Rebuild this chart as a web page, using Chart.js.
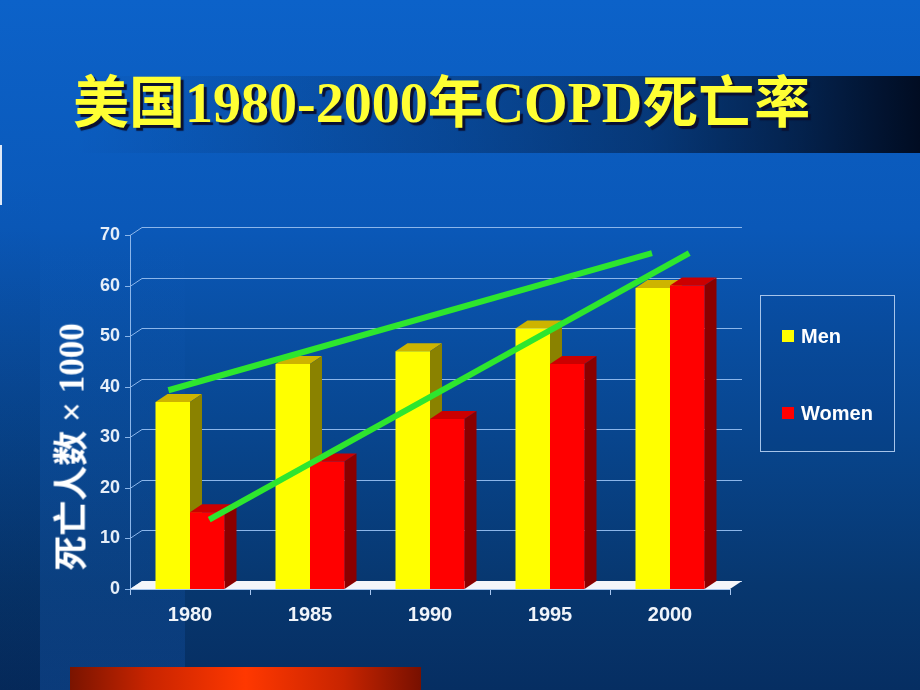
<!DOCTYPE html>
<html>
<head>
<meta charset="utf-8">
<script src="https://cdn.jsdelivr.net/npm/chart.js@4.4.1/dist/chart.umd.min.js"></script>
<style>
html, body { margin: 0; padding: 0; }
body {
    width: 920px; height: 690px; overflow: hidden; position: relative;
    background: linear-gradient(to bottom, #0c62c9 0%, #0a58b8 33%, #08468f 62%, #07376f 85%, #062e62 100%);
    font-family: "Liberation Sans", Arial, sans-serif;
}
#band { position: absolute; left: 40px; top: 0; width: 145px; height: 690px;
    background: linear-gradient(to bottom, rgba(40,120,230,0) 35%, rgba(30,110,220,0.2) 100%); }
#strip { position: absolute; left: 0; top: 0; width: 40px; height: 690px;
    background: linear-gradient(to bottom, rgba(0,10,40,0) 25%, rgba(0,10,40,0.15) 100%); }
#edge { position: absolute; left: 0; top: 145px; width: 2px; height: 60px; background: #dfe9f7; }
#titlebar { position: absolute; left: 75px; top: 76px; width: 845px; height: 77px;
    background: linear-gradient(to right, rgba(0,6,22,0) 0%, rgba(0,6,22,0.25) 45%, rgba(0,6,22,0.42) 68%, rgba(0,6,22,0.68) 86%, rgba(0,6,22,0.93) 100%); }
#title { position: absolute; left: 73px; top: 75px; margin: 0; white-space: nowrap;
    font: bold 56px/56px "Liberation Serif", "Noto Sans CJK SC", serif;
    color: #ffff33; text-shadow: 3px 3px 1px #0a1030; transform-origin: 0 0; }
#orange { position: absolute; left: 70px; top: 667px; width: 351px; height: 23px;
    background: linear-gradient(to right, #7a1400 0%, #c82400 22%, #ff3800 50%, #c82400 78%, #781000 100%); }
canvas { position: absolute; left: 0; top: 0; }
#ytitle { position: absolute; left: 68px; top: 447px; transform: translate(-50%, -50%) rotate(-90deg);
    white-space: nowrap; color: #ffffff; font: bold 35px "Liberation Serif", "Noto Sans CJK SC", serif; }
#legend { position: absolute; left: 760px; top: 295px; width: 133px; height: 155px;
    border: 1px solid #a6c4ea; background: rgba(0,20,60,0.06); }
.item { position: absolute; left: 21px; height: 24px; display: flex; align-items: center;
    color: #ffffff; font: bold 20px "Liberation Sans", Arial, sans-serif; }
.item span.sw { display: inline-block; width: 12px; height: 12px; margin-right: 7px; }
</style>
</head>
<body>
<div id="strip"></div>
<div id="band"></div>
<div id="edge"></div>
<div id="titlebar"></div>
<h1 id="title">美国1980-2000年COPD死亡率</h1>
<div id="orange"></div>
<canvas id="barChart" width="920" height="690"></canvas>
<canvas id="trendChart" width="920" height="690"></canvas>
<div id="ytitle">死亡人数 × 1000</div>
<div id="legend"></div>
<script>
// Datos
const years = ['1980', '1985', '1990', '1995', '2000'];
const men = [37, 44.5, 47, 51.5, 59.5];
const women = [15.2, 25.2, 33.6, 44.5, 60];
const yTicks = [0, 10, 20, 30, 40, 50, 60, 70];
// Líneas de tendencia (año, valor)
const menTrend = [{ x: 1979.1, y: 39.3 }, { x: 1999.25, y: 66.4 }];
const womenTrend = [{ x: 1980.8, y: 13.7 }, { x: 2000.8, y: 66.4 }];

const depthX = 12, depthY = 8;
const faceColors = {
    Men: { top: '#cdb400', side: '#8a8200' },
    Women: { top: '#cc0000', side: '#8a0000' }
};
// Zona de trazado común a las dos gráficas
const area = { left: 130, right: 190, top: 235, bottom: 101 };

// Ajustar el ancho del título al de la diapositiva
const titleEl = document.getElementById('title');
titleEl.style.transform = 'scaleX(' + (737 / titleEl.offsetWidth).toFixed(3) + ')';

// Efecto 3D: pared con rejilla, suelo y caras superior/lateral de las barras
const threeD = {
    id: 'threeD',
    beforeDatasetsDraw(chart) {
        const { ctx, chartArea: a, scales: { y } } = chart;
        ctx.save();
        ctx.strokeStyle = '#8cb6ea';
        ctx.lineWidth = 1;
        y.ticks.forEach(t => {
            const py = Math.round(y.getPixelForValue(t.value)) + 0.5;
            ctx.beginPath();
            ctx.moveTo(a.left - 5, py);
            ctx.lineTo(a.left, py);
            ctx.lineTo(a.left + depthX, py - depthY);
            ctx.lineTo(a.right + depthX, py - depthY);
            ctx.stroke();
        });
        ctx.beginPath();
        ctx.moveTo(a.left + 0.5, a.top);
        ctx.lineTo(a.left + 0.5, a.bottom);
        ctx.stroke();

        // suelo
        ctx.fillStyle = '#f4f6fa';
        ctx.beginPath();
        ctx.moveTo(a.left, a.bottom);
        ctx.lineTo(a.right, a.bottom);
        ctx.lineTo(a.right + depthX, a.bottom - depthY);
        ctx.lineTo(a.left + depthX, a.bottom - depthY);
        ctx.closePath();
        ctx.fill();

        // eje inferior y marcas
        ctx.strokeStyle = '#a8c8f0';
        ctx.beginPath();
        ctx.moveTo(a.left, a.bottom + 0.5);
        ctx.lineTo(a.right, a.bottom + 0.5);
        const step = (a.right - a.left) / years.length;
        for (let i = 0; i <= years.length; i++) {
            const px = Math.round(a.left + i * step) + 0.5;
            ctx.moveTo(px, a.bottom);
            ctx.lineTo(px, a.bottom + 6);
        }
        ctx.stroke();

        const metas = chart.getSortedVisibleDatasetMetas();
        metas.sort((p, q) => p.index - q.index);
        for (let i = 0; i < years.length; i++) {
            metas.forEach(m => {
                const el = m.data[i];
                const c = faceColors[chart.data.datasets[m.index].label];
                const l = el.x - el.width / 2, r = el.x + el.width / 2;
                ctx.fillStyle = c.top;
                ctx.beginPath();
                ctx.moveTo(l, el.y);
                ctx.lineTo(r, el.y);
                ctx.lineTo(r + depthX, el.y - depthY);
                ctx.lineTo(l + depthX, el.y - depthY);
                ctx.closePath();
                ctx.fill();
                ctx.fillStyle = c.side;
                ctx.beginPath();
                ctx.moveTo(r, el.y);
                ctx.lineTo(r + depthX, el.y - depthY);
                ctx.lineTo(r + depthX, el.base - depthY);
                ctx.lineTo(r, el.base);
                ctx.closePath();
                ctx.fill();
            });
        }
        ctx.restore();
    }
};

// Gráfica de barras
const chart = new Chart(document.getElementById('barChart'), {
    type: 'bar',
    data: {
        labels: years,
        datasets: [
            { label: 'Men', data: men, backgroundColor: '#ffff00', borderWidth: 0 },
            { label: 'Women', data: women, backgroundColor: '#ff0000', borderWidth: 0 }
        ]
    },
    options: {
        responsive: false,
        animation: false,
        devicePixelRatio: 1,
        layout: { padding: { left: 0, right: area.right, top: area.top, bottom: 0 } },
        categoryPercentage: 0.575,
        barPercentage: 1,
        scales: {
            x: {
                grid: { display: false, drawTicks: false },
                border: { display: false },
                ticks: { color: '#f0f4fa', font: { family: 'Liberation Sans', size: 20, weight: 'bold' }, padding: 14 },
                afterFit(axis) { axis.height = area.bottom; }
            },
            y: {
                min: 0, max: 70,
                afterBuildTicks(axis) { axis.ticks = yTicks.map(v => ({ value: v })); },
                grid: { display: false, drawTicks: false },
                border: { display: false },
                ticks: { color: '#e6eef8', font: { family: 'Liberation Sans', size: 18, weight: 'bold' }, padding: 10 },
                afterFit(axis) { axis.width = area.left; }
            }
        },
        plugins: {
            legend: { display: false },
            tooltip: { enabled: false }
        }
    },
    plugins: [threeD]
});

// Gráfica de líneas de tendencia (misma zona de trazado, eje x en años)
new Chart(document.getElementById('trendChart'), {
    type: 'line',
    data: {
        datasets: [
            { label: 'menTrend', data: menTrend },
            { label: 'womenTrend', data: womenTrend }
        ]
    },
    options: {
        responsive: false,
        animation: false,
        devicePixelRatio: 1,
        layout: { padding: area },
        elements: {
            line: { borderColor: '#2ee62e', borderWidth: 6, tension: 0, fill: false, borderCapStyle: 'butt' },
            point: { radius: 0 }
        },
        scales: {
            x: { type: 'linear', min: 1977.5, max: 2002.5, display: false },
            y: { min: 0, max: 70, display: false }
        },
        plugins: {
            legend: { display: false },
            tooltip: { enabled: false }
        }
    }
});

// Leyenda en HTML a partir de los datasets de barras
const legendBox = document.getElementById('legend');
const rowTops = [28, 105];
chart.data.datasets.forEach((d, i) => {
    const item = document.createElement('div');
    item.className = 'item';
    item.style.top = rowTops[i] + 'px';
    item.innerHTML = '<span class="sw" style="background:' + d.backgroundColor + '"></span>' + d.label;
    legendBox.appendChild(item);
});
</script>
</body>
</html>
